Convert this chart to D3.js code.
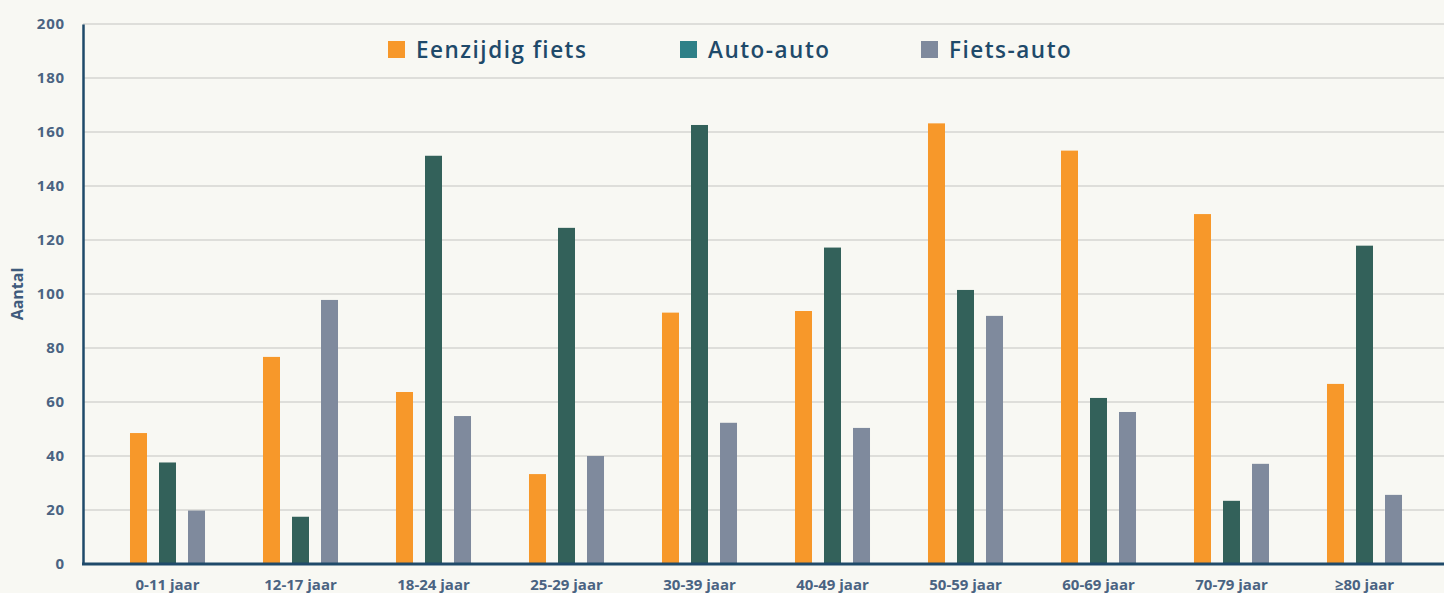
<!DOCTYPE html>
<html>
<head>
<meta charset="utf-8">
<script src="https://cdn.jsdelivr.net/npm/d3@7"></script>
<style>
  html, body { margin: 0; padding: 0; background: #F8F8F3; }
  svg { display: block; }
  text { font-family: "Open Sans", "DejaVu Sans", sans-serif; }
</style>
</head>
<body>
<svg id="chart" width="1444" height="593"></svg>
<script>
const categories = ["0-11 jaar", "12-17 jaar", "18-24 jaar", "25-29 jaar", "30-39 jaar", "40-49 jaar", "50-59 jaar", "60-69 jaar", "70-79 jaar", "≥80 jaar"];
const seriesNames = ["Eenzijdig fiets", "Auto-auto", "Fiets-auto"];
const eenzijdigFiets = [48.5, 76.7, 63.7, 33.3, 93.1, 93.7, 163.2, 153.1, 129.6, 66.7];
const autoAuto      = [37.6, 17.5, 151.2, 124.5, 162.6, 117.2, 101.5, 61.5, 23.4, 117.9];
const fietsAuto     = [19.8, 97.8, 54.8, 40.0, 52.3, 50.4, 91.9, 56.3, 37.1, 25.6];
const yTicks = [0, 20, 40, 60, 80, 100, 120, 140, 160, 180, 200];

const barColors = ["#F7982A", "#33615A", "#7F8A9D"];
const legendColors = ["#F7982A", "#2E8087", "#7F8A9D"];
const seriesValues = [eenzijdigFiets, autoAuto, fietsAuto];

const svg = d3.select("#chart");
const plotLeft = 83, plotRight = 1444, plotTop = 24, plotBottom = 564;

const y = d3.scaleLinear().domain([0, 200]).range([plotBottom, plotTop]);
const x0 = d3.scaleBand().domain(categories).range([101, 1431]).paddingInner(0.436).paddingOuter(0.218);
const x1 = d3.scaleBand().domain(seriesNames).range([0, x0.bandwidth()]).paddingInner(12 / 29);

// gridlines
svg.append("g").selectAll("line").data(yTicks.filter(t => t > 0)).join("line")
  .attr("x1", plotLeft).attr("x2", plotRight)
  .attr("y1", d => y(d)).attr("y2", d => y(d))
  .attr("stroke", "#DEDEDA").attr("stroke-width", 2);

// bars
const groups = svg.append("g").selectAll("g").data(categories).join("g")
  .attr("transform", d => `translate(${x0(d)},0)`);
groups.selectAll("rect").data((c, i) => seriesNames.map((s, j) => ({ s, j, v: seriesValues[j][i] })))
  .join("rect")
  .attr("x", d => x1(d.s))
  .attr("width", x1.bandwidth())
  .attr("y", d => y(d.v))
  .attr("height", d => y(0) - y(d.v))
  .attr("fill", d => barColors[d.j]);

// y axis
const yAxis = d3.axisLeft(y).tickValues(yTicks).tickSize(0).tickPadding(18);
const gy = svg.append("g").attr("transform", `translate(${plotLeft},0)`).call(yAxis);
gy.select(".domain").attr("stroke", "#1F4A6A").attr("stroke-width", 2.5);
gy.selectAll("text").attr("fill", "#4A6382").attr("font-size", 15).attr("font-weight", 700)
  .attr("letter-spacing", 0.8);

// x axis
const xAxis = d3.axisBottom(x0).tickSize(0).tickPadding(15);
const gx = svg.append("g").attr("transform", `translate(0,${plotBottom})`).call(xAxis);
gx.select(".domain").remove();
gx.selectAll("text").attr("fill", "#4A6382").attr("font-size", 15).attr("font-weight", 700);
svg.append("line").attr("x1", plotLeft - 1).attr("x2", plotRight).attr("y1", plotBottom).attr("y2", plotBottom)
  .attr("stroke", "#1F4A6A").attr("stroke-width", 3);

// y label
svg.append("text").attr("transform", `translate(23,${(plotTop + plotBottom) / 2}) rotate(-90)`)
  .attr("text-anchor", "middle").attr("fill", "#3F5B7C").attr("font-size", 16).attr("font-weight", 700)
  .text("Aantal");

// legend
const legendX = [388, 680, 921];
const lg = svg.append("g").selectAll("g").data(seriesNames).join("g")
  .attr("transform", (d, i) => `translate(${legendX[i]},41)`);
lg.append("rect").attr("width", 17).attr("height", 17).attr("fill", (d, i) => legendColors[i]);
lg.append("text").attr("x", 28).attr("y", 17).attr("fill", "#1F4A6A")
  .attr("font-size", 22.5).attr("font-weight", 600).attr("letter-spacing", 1.5).text(d => d);
</script>
</body>
</html>
